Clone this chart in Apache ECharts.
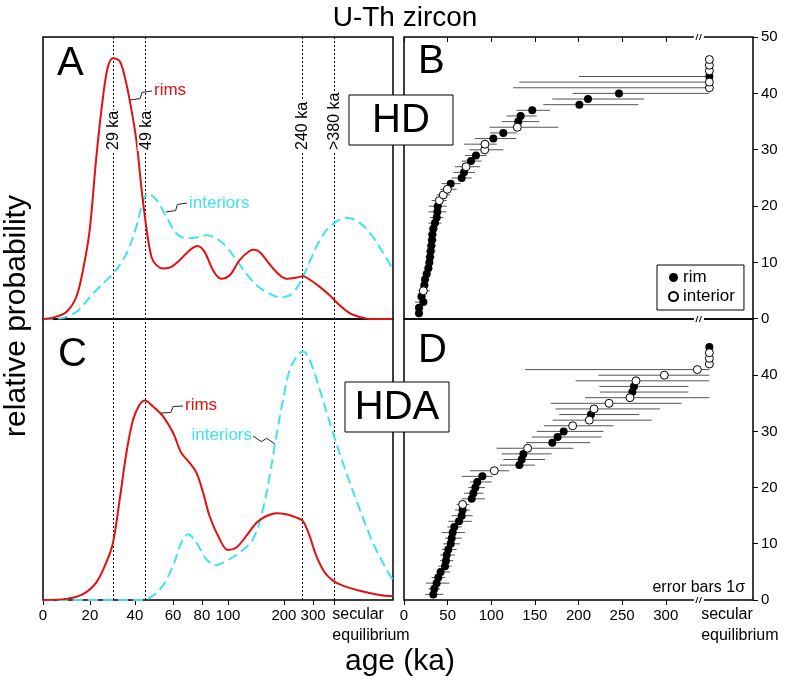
<!DOCTYPE html>
<html><head><meta charset="utf-8">
<script src="https://cdn.jsdelivr.net/npm/echarts@6/dist/echarts.min.js"></script>
<style>html,body{margin:0;padding:0;background:#fff}#c{width:786px;height:686px}</style>
</head><body><div id="c"></div>
<script>
// ---------- Left panels: probability curves (x in axis units: secular equilibrium = 1) ----------
const leftTickU = [0, 0.161, 0.315, 0.446, 0.545, 0.634, 0.826, 0.926, 1.0];
const leftTickText = ['0','20','40','60','80','100','200','300',''];
const leftSecularLabelU = 0.992;      // left edge of the "secular equilibrium" label
const markerU = [0.243, 0.355, 0.891, 1.0];
const markerText = ['29 ka', '49 ka', '240 ka', '>380 ka'];

const aRimX = [0,0.034,0.080,0.114,0.137,0.160,0.183,0.206,0.223,0.240,0.263,0.280,0.297,0.320,0.337,0.354,0.372,0.389,0.411,0.434,0.469,0.503,0.529,0.554,0.583,0.611,0.640,0.674,0.709,0.726,0.743,0.766,0.800,0.834,0.869,0.891,0.914,0.949,0.983,1.017,1.051,1.086,1.120,1.198];
const aRimY = [0,0.5,2.5,7.8,17.3,31.5,57.6,78.9,89.6,92.5,91.4,86,77.7,63.5,46.9,32.7,22,19.1,17.9,18.2,20.9,24.4,25.9,23.8,17.3,14.3,15.5,20.9,24.2,24.6,23.8,20.9,16.7,14.3,14.7,15.2,14,11.4,8.4,4.9,2.1,0.7,0,0];
const aIntX = [0,0.057,0.114,0.171,0.217,0.246,0.286,0.320,0.343,0.360,0.389,0.423,0.457,0.492,0.526,0.560,0.594,0.629,0.663,0.697,0.732,0.766,0.811,0.846,0.880,0.914,0.949,0.983,1.040,1.086,1.131,1.166,1.198];
const aIntY = [0,0.2,2.5,9,13.7,16.7,23.2,32.7,41.6,44.5,42.2,36.3,30.3,28.6,28.9,29.7,28.6,25.6,20.9,16.1,12,9.6,7.8,8.4,12.6,20.3,28,32.7,35.9,34.1,29.1,23.5,17.9];
const cRimX = [0,0.080,0.137,0.183,0.217,0.240,0.263,0.286,0.309,0.331,0.349,0.377,0.411,0.446,0.474,0.503,0.526,0.549,0.571,0.606,0.634,0.663,0.697,0.732,0.766,0.800,0.834,0.869,0.891,0.914,0.937,0.966,0.994,1.028,1.086,1.154,1.198];
const cRimY = [0,0.4,2.1,6.3,13.4,20.4,35.8,52.4,64.2,69.5,71,68.9,65.4,59.5,52.4,48.8,45.3,38.2,29.9,21.6,17.8,18.7,22.8,27.5,29.9,30.9,30.5,29.3,28.1,22.8,15.7,9.8,6.9,5.1,3.3,1.8,1.3];
const cIntX = [0,0.343,0.377,0.411,0.446,0.474,0.497,0.526,0.560,0.592,0.629,0.674,0.720,0.754,0.777,0.800,0.823,0.846,0.874,0.891,0.914,0.949,0.994,1.040,1.086,1.131,1.177,1.198];
const cIntY = [0,0,1.5,5.1,12.2,20.4,23.4,20.4,14.5,12.4,13.9,16.9,21.6,32.3,44.1,58.3,71.3,81.9,87.2,88.4,85.5,74.8,59.5,45.3,32.3,20.4,11,7.4];

// ---------- Right panels: ranked ages (ka), 1 sigma bounds; null age = secular equilibrium ----------
const rightTicks = [0, 50, 100, 150, 200, 250, 300];
const SECULAR_X = 350, BREAK_X = 338, rightSecularLabelX = 340.6;

const hdAge = [17.2,17.2,22.2,20,22.2,23.3,24.1,26,27.9,29,29.8,30.6,31.3,32.1,32.5,33.6,35.5,37.5,38.2,38.6,40.5,45,49.7,53.5,66.1,68.8,71.1,76.8,82.5,92.5,92.8,102.4,113.8,129.9,131,133.7,147,201,210.9,246.4,null,null,null,null,null,null];
const hdLo  = [14.5,12.6,12.6,16.4,16.4,18.6,19.5,21.4,23.3,24.4,24.5,25.3,26,26.8,27.2,28.3,28,30,28,28.5,31.7,37.4,41.3,43.2,54.6,56.5,58.4,66.1,70,74.9,68.8,81.4,98.6,97.8,112,117.7,129.2,159.7,170,193.3,125.3,132.2,200.6,null,null,null];
const hdHi  = [20.2,22.2,26,25,29.8,28,28.7,30.6,32.5,33.6,35.1,35.9,36.6,37.4,37.8,38.9,43,45,48.4,48.9,48.9,52.7,60.3,64.9,77.6,81.4,87.1,89,94.7,113.9,106.2,128.4,129.2,176.9,155.1,152.1,167.4,268.6,275.4,null,null,null,null,null,null,null];
const hdType = 'rrrr'+'i'+'rrrrrrrrrrrrrrr'+'iii'+'rrr'+'i'+'rr'+'ii'+'rr'+'i'+'rrrrrr'+'ii'+'r'+'iii';

const hdaAge = [33.6,34.8,37.4,39.3,42,47,48.1,48.9,50.8,53.5,54.6,55.8,57.7,63,66.1,67.2,67.2,77.6,79.5,81.8,84,89.8,103.5,132.2,134.9,136.8,141.7,170,176.1,183,193.3,212.4,214.3,217.8,235,259,261.7,263.6,265.9,298.4,336.2,null,null,null,null];
const hdaLo  = [24.1,27.9,25.2,31.7,37.4,39.4,41.3,41.3,43.2,45.1,47,43.2,49.7,50.8,54.6,58.4,60.3,66.1,68.8,73.7,75.6,66.1,75.6,110,113.9,112,106.2,139.8,146.3,152.1,160.5,170.4,178,173.8,168.5,207.5,224.6,223.9,196.7,222.7,138.7,null,null,null,null];
const hdaHi  = [45.1,41.3,52,47,52.7,54.6,56.5,58.4,60.3,64.2,66.1,69.9,66.1,77.6,78.7,75.6,74.9,92.8,91,92.8,100.5,101.6,120.7,150.1,161.6,169.2,194.1,213.3,226.5,228.5,240,283.9,269.7,293.4,318.2,null,325.9,325.9,null,null,null,null,null,null,null];
const hdaType = 'rrrrrrrrrrrrrrrr'+'i'+'rrrrr'+'i'+'rrr'+'i'+'rrr'+'ii'+'r'+'iii'+'rr'+'iiiiii'+'r';

// ---------- helpers ----------
const FONT = 'Liberation Sans, Arial, Helvetica, sans-serif';
const RED = '#e3100f', CYAN = '#3fe2ee';
const zip = (xs, ys) => xs.map((x, i) => [x, ys[i]]);
function points(ages, types, want) {
  const out = [];
  ages.forEach((a, i) => { if (types[i] === want) out.push([a === null ? SECULAR_X : a, i + 1]); });
  return out;
}
function bars(ages, lo, hi) {
  const out = [];
  ages.forEach((a, i) => {
    if (lo[i] === null) return;
    out.push([lo[i], hi[i] === null ? SECULAR_X : hi[i], i + 1]);
  });
  return out;
}
function fmtLeft(v) {
  for (let i = 0; i < leftTickU.length; i++) if (Math.abs(v - leftTickU[i]) < 1e-6) return leftTickText[i];
  return '';
}

const frame = { show: true, borderColor: '#000', borderWidth: 1.5, backgroundColor: 'transparent' };
const noLine = { show: false, onZero: false };
const tickStyle = { color: '#000', width: 1 };
const hiddenAxis = (g, min, max) => ({ type: 'value', gridIndex: g, min: min, max: max, axisLine: noLine, axisTick: { show: false }, axisLabel: { show: false }, splitLine: { show: false } });

const lineSeries = (name, xi, xs, ys, color, dashed, marks) => ({
  type: 'line', name: name, xAxisIndex: xi, yAxisIndex: xi, data: zip(xs, ys), smooth: 0.35,
  showSymbol: false, symbol: 'none', z: 3,
  lineStyle: { color: color, width: 2, type: dashed ? [10, 5] : 'solid' }, itemStyle: { color: color },
  markLine: marks ? { silent: true, symbol: ['none', 'none'], label: { show: false }, z: 1,
    lineStyle: { color: '#000', width: 1, type: [2, 2] }, data: markerU.map(u => ({ xAxis: u })) } : undefined
});

const errSeries = (xi, data) => ({
  type: 'custom', xAxisIndex: xi, yAxisIndex: xi, data: data, z: 2, silent: true,
  encode: { x: [0, 1], y: 2 },
  renderItem: function (params, api) {
    const p1 = api.coord([api.value(0), api.value(2)]);
    const p2 = api.coord([api.value(1), api.value(2)]);
    return { type: 'line', shape: { x1: p1[0], y1: p1[1], x2: p2[0], y2: p2[1] }, style: { stroke: '#555', lineWidth: 1 } };
  }
});
const rimSeries = (xi, data) => ({ type: 'scatter', name: 'rim', xAxisIndex: xi, yAxisIndex: xi, data: data, symbol: 'circle', symbolSize: 8, z: 4, itemStyle: { color: '#000', opacity: 1 } });
const intSeries = (xi, data) => ({ type: 'scatter', name: 'interior', xAxisIndex: xi, yAxisIndex: xi, data: data, symbol: 'circle', symbolSize: 8, z: 5, itemStyle: { color: '#fff', borderColor: '#000', borderWidth: 1, opacity: 1 } });

const rightY = (g, hideTop) => ({
  type: 'value', gridIndex: g, position: 'right', min: 0, max: 50, interval: 10,
  axisLine: noLine, splitLine: { show: false }, axisTick: { show: false },
  axisLabel: { show: true, fontSize: 15, color: '#000', fontFamily: FONT, margin: 8, formatter: v => (hideTop && v === 50) ? '' : String(v) }
});
// outward tick marks are drawn as inward ticks of thin helper grids lying just outside the panels
const tickTopAxis = (g, min, max, vals) => ({
  type: 'value', gridIndex: g, position: 'top', min: min, max: max, axisLine: noLine, splitLine: { show: false },
  axisTick: { show: true, inside: true, length: 5, lineStyle: tickStyle, customValues: vals },
  axisLabel: { show: true, customValues: vals, color: 'rgba(0,0,0,0)', formatter: () => '' }
});

const option = {
  animation: false,
  backgroundColor: '#fff',
  textStyle: { fontFamily: FONT },
  grid: [
    Object.assign({ left: 43, top: 37, width: 350, height: 282 }, frame),   // 0 A
    Object.assign({ left: 43, top: 319, width: 350, height: 281 }, frame),  // 1 C
    Object.assign({ left: 404, top: 37, width: 349, height: 282 }, frame),  // 2 B
    Object.assign({ left: 404, top: 319, width: 349, height: 281 }, frame), // 3 D
    { left: 43, top: 600, width: 350, height: 20, show: false },            // 4 C bottom ticks
    { left: 404, top: 600, width: 349, height: 20, show: false },           // 5 D bottom ticks
    { left: 753, top: 37, width: 20, height: 563, show: false }             // 6 right-hand ticks
  ],
  xAxis: [
    hiddenAxis(0, 0, 1.2),
    { type: 'value', gridIndex: 1, min: 0, max: 1.2, axisLine: noLine, splitLine: { show: false }, axisTick: { show: false },
      axisLabel: { show: true, customValues: leftTickU.slice(0, 8), formatter: fmtLeft, fontSize: 15, color: '#000', fontFamily: FONT, margin: 8 } },
    tickTopAxis(2, 0, 400, rightTicks),
    { type: 'value', gridIndex: 3, min: 0, max: 400, axisLine: noLine, splitLine: { show: false }, axisTick: { show: false },
      axisLabel: { show: true, customValues: rightTicks, fontSize: 15, color: '#000', fontFamily: FONT, margin: 8 } },
    tickTopAxis(4, 0, 1.2, leftTickU),
    tickTopAxis(5, 0, 400, rightTicks),
    hiddenAxis(6, 0, 1)
  ],
  yAxis: [
    hiddenAxis(0, 0, 100),
    hiddenAxis(1, 0, 100),
    rightY(2, false),
    rightY(3, true),
    hiddenAxis(4, 0, 1),
    hiddenAxis(5, 0, 1),
    { type: 'value', gridIndex: 6, position: 'left', min: 0, max: 100, interval: 10, axisLine: noLine, splitLine: { show: false },
      axisTick: { show: true, inside: true, length: 5, lineStyle: tickStyle }, axisLabel: { show: true, color: 'rgba(0,0,0,0)', formatter: () => '' } }
  ],
  legend: {
    data: ['rim', 'interior'], orient: 'vertical', left: 657, top: 265,
    padding: [4, 9, 5, 11], itemGap: 2, itemWidth: 9, itemHeight: 9,
    borderColor: '#000', borderWidth: 1, borderRadius: 0, backgroundColor: '#fff',
    textStyle: { fontSize: 17, color: '#000', fontFamily: FONT }, selectedMode: false
  },
  series: [
    lineSeries('A interiors', 0, aIntX, aIntY, CYAN, true, false),
    lineSeries('A rims', 0, aRimX, aRimY, RED, false, true),
    lineSeries('C interiors', 1, cIntX, cIntY, CYAN, true, false),
    lineSeries('C rims', 1, cRimX, cRimY, RED, false, true),
    errSeries(2, bars(hdAge, hdLo, hdHi)),
    rimSeries(2, points(hdAge, hdType, 'r')),
    intSeries(2, points(hdAge, hdType, 'i')),
    errSeries(3, bars(hdaAge, hdaLo, hdaHi)),
    rimSeries(3, points(hdaAge, hdaType, 'r')),
    intSeries(3, points(hdaAge, hdaType, 'i'))
  ]
};

const chart = echarts.init(document.getElementById('c'), null, { renderer: 'canvas' });
chart.setOption(option);

// ---------- annotations ----------
function txt(text, x, y, size, opts) {
  opts = opts || {};
  return { type: 'text', x: x, y: y, rotation: opts.rotation || 0, z: 100,
    style: Object.assign({ text: text, fontSize: size, fontFamily: FONT, fill: opts.fill || '#000',
      align: opts.align || 'center', verticalAlign: 'middle', textAlign: opts.align || 'center', textVerticalAlign: 'middle' }, opts.style || {}) };
}
function squiggle(x1, y1, x2, y2) {
  const mx = (x1 + x2) / 2, my = (y1 + y2) / 2;
  const L = Math.hypot(x2 - x1, y2 - y1), dx = (x2 - x1) / L, dy = (y2 - y1) / L;
  const nx = -dy, ny = dx;
  return { type: 'polyline', z: 100, shape: { points: [[x1, y1], [mx - dx * 2 + nx * 2.5, my - dy * 2 + ny * 2.5], [mx + dx * 2 - nx * 2.5, my + dy * 2 - ny * 2.5], [x2, y2]] },
    style: { stroke: '#222', lineWidth: 1, fill: null } };
}
function breakMark(x, y) {
  return [
    { type: 'rect', z: 100, shape: { x: x - 5, y: y - 3, width: 10, height: 6 }, style: { fill: '#fff', stroke: null } },
    { type: 'line', z: 101, shape: { x1: x - 3, y1: y + 3, x2: x - 1, y2: y - 3 }, style: { stroke: '#000', lineWidth: 1 } },
    { type: 'line', z: 101, shape: { x1: x + 0.5, y1: y + 3, x2: x + 2.5, y2: y - 3 }, style: { stroke: '#000', lineWidth: 1 } }
  ];
}

const g = [];
g.push(txt('U-Th zircon', 405, 18, 28));
g.push(txt('age (ka)', 400, 662, 30));
g.push(txt('relative probability', 17, 316, 30, { rotation: Math.PI / 2 }));
g.push(txt('A', 57, 64, 40, { align: 'left' }));
g.push(txt('B', 418, 62, 40, { align: 'left' }));
g.push(txt('C', 58, 355, 40, { align: 'left' }));
g.push(txt('D', 418, 351, 40, { align: 'left' }));
// sample boxes
g.push({ type: 'rect', z: 100, shape: { x: 349, y: 95, width: 104, height: 50 }, style: { fill: '#fff', stroke: '#000', lineWidth: 1 } });
g.push(txt('HD', 401, 121, 40));
g.push({ type: 'rect', z: 100, shape: { x: 345, y: 382, width: 104, height: 50 }, style: { fill: '#fff', stroke: '#000', lineWidth: 1 } });
g.push(txt('HDA', 397, 408, 40));
// curve labels
g.push(txt('rims', 154, 90, 17, { align: 'left', fill: RED }));
g.push(squiggle(130, 100, 152, 91));
g.push(txt('interiors', 189, 203, 17, { align: 'left', fill: CYAN }));
g.push(squiggle(166, 212, 187, 203));
g.push(txt('rims', 185, 405, 17, { align: 'left', fill: RED }));
g.push(squiggle(161, 413, 183, 406));
g.push(txt('interiors', 252, 435, 17, { align: 'right', fill: CYAN }));
g.push(squiggle(253, 436, 275, 444));
g.push(txt('error bars 1σ', 745, 588, 16, { align: 'right' }));
// rotated marker labels
markerU.forEach((u, i) => {
  const p = chart.convertToPixel({ xAxisIndex: 0, yAxisIndex: 0 }, [u, 0]);
  g.push(txt(markerText[i], p[0], 151, 16, { align: 'left', rotation: Math.PI / 2, style: { backgroundColor: '#fff', padding: [1, 1] } }));
});
// "secular equilibrium" tick labels
const ls = chart.convertToPixel({ xAxisIndex: 1, yAxisIndex: 1 }, [leftSecularLabelU, 0]);
const rs = chart.convertToPixel({ xAxisIndex: 3, yAxisIndex: 3 }, [rightSecularLabelX, 0]);
[ls[0], rs[0]].forEach(x => {
  g.push(txt('secular', x, 615, 16, { align: 'left' }));
  g.push(txt('equilibrium', x, 636, 16, { align: 'left' }));
});
// axis breaks
const bx = chart.convertToPixel({ xAxisIndex: 2, yAxisIndex: 2 }, [BREAK_X, 0])[0];
[37, 319, 600].forEach(y => breakMark(bx, y).forEach(e => g.push(e)));

chart.setOption({ graphic: { elements: g } });
</script></body></html>
